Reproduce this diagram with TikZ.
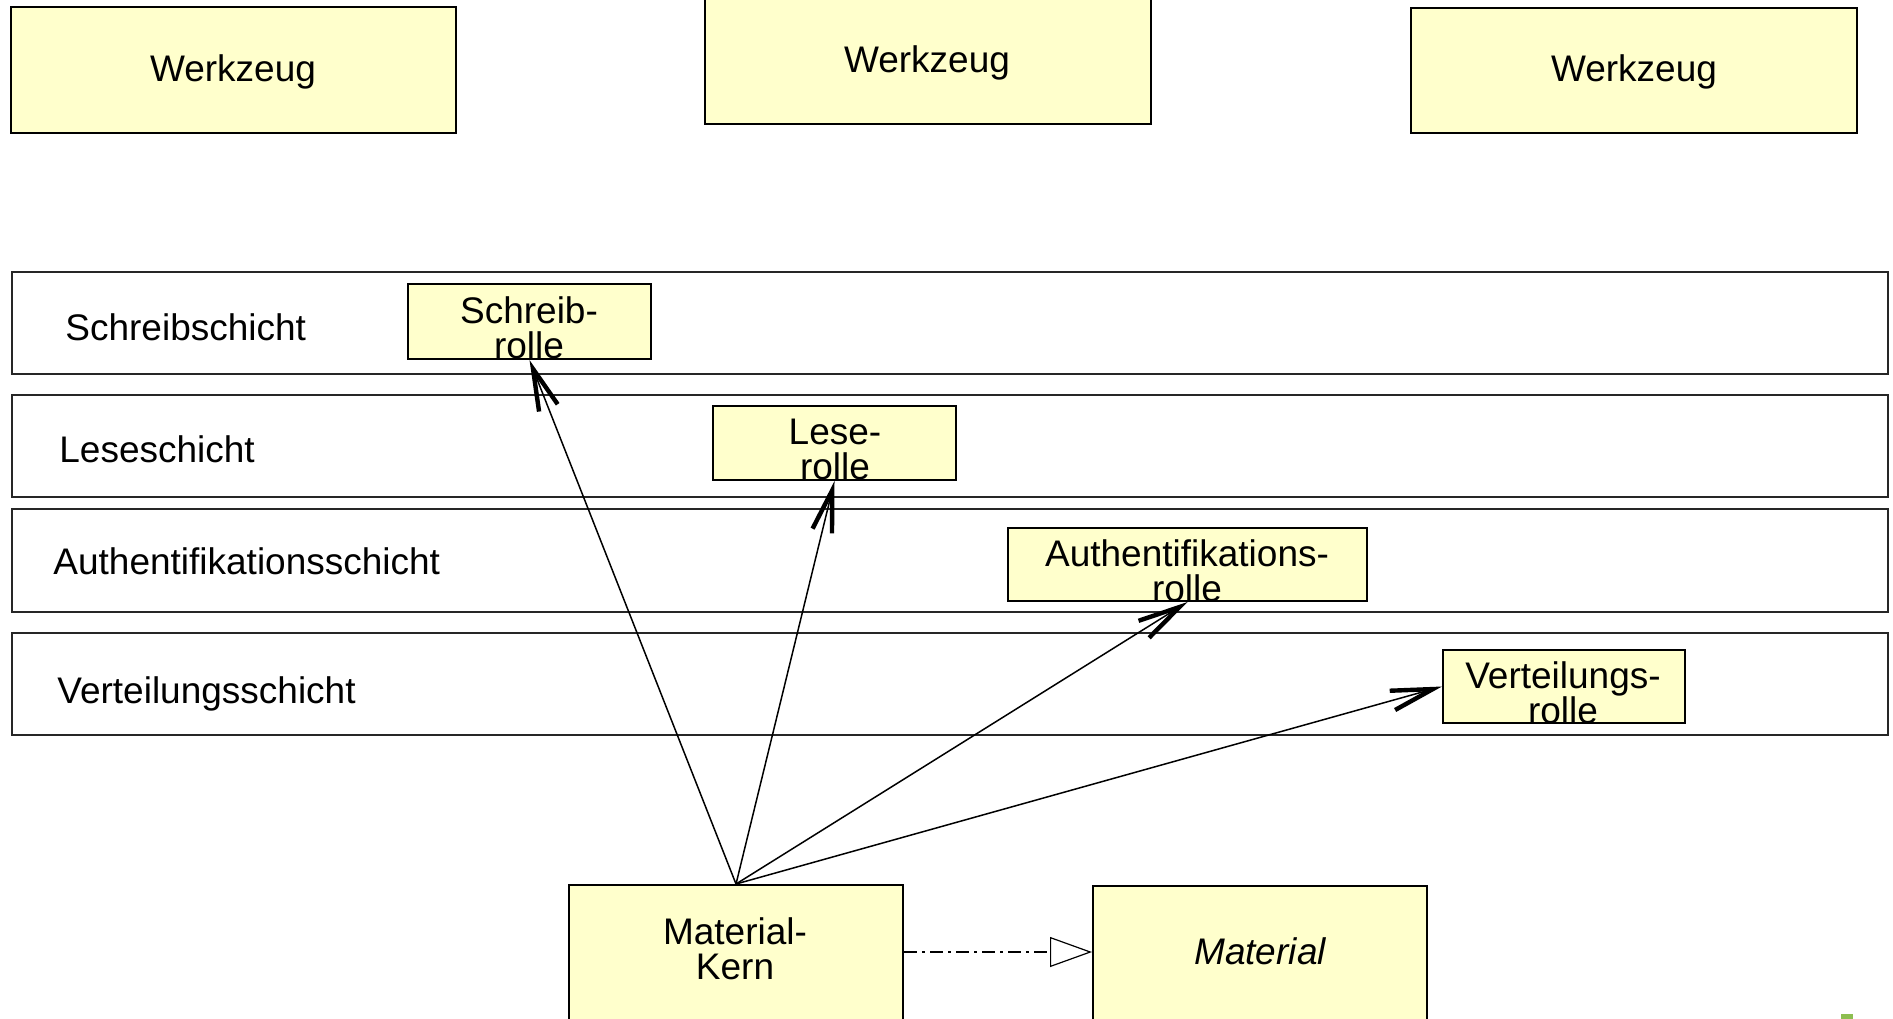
\documentclass[tikz,border=0pt]{standalone}
\usepackage{fontspec}
\setmainfont{Liberation Sans}
\usetikzlibrary{arrows.meta,fit}
\definecolor{boxfill}{RGB}{255,255,204}
\definecolor{markgreen}{RGB}{141,190,80}
\begin{document}
\begin{tikzpicture}[x=0.5pt,y=-0.5pt,
  every node/.style={font=\fontsize{18.5}{17.5}\selectfont},
  box/.style={draw=black,line width=1pt,fill=boxfill,inner sep=0pt},
  layer/.style={draw=black!85,line width=1pt,inner sep=0pt},
  txt/.style={align=center,inner sep=0pt},
  ltxt/.style={anchor=west,inner sep=0pt},
  uses/.style={line width=0.75pt,-{Straight Barb[length=21pt,width=10pt,line width=2.2pt]}},
  realizes/.style={line width=0.75pt,dash pattern=on 6.5pt off 2.5pt on 1.5pt off 2.5pt,
    -{Triangle[open,length=21pt,width=15pt,line width=0.6pt,fill=white]}}]
\useasboundingbox (0,0) rectangle (1893,1018);

% tools at the top
\node[box,fit={(11,7) (456,133)}] (w1) {};
\node[box,fit={(705,-6) (1151,124)}] (w2) {};
\node[box,fit={(1411,8) (1857,133)}] (w3) {};
\node[txt] (w1t) at (233,72) {Werkzeug};
\node[txt] (w2t) at (927,63) {Werkzeug};
\node[txt] (w3t) at (1634,72) {Werkzeug};

% layers
\node[layer,fit={(12,272) (1888,374)}] (l1) {};
\node[layer,fit={(12,395) (1888,497)}] (l2) {};
\node[layer,fit={(12,509) (1888,612)}] (l3) {};
\node[layer,fit={(12,633) (1888,735)}] (l4) {};
\node[ltxt] (l1t) at (65,327) {Schreibschicht};
\node[ltxt] (l2t) at (59,449) {Leseschicht};
\node[ltxt] (l3t) at (53,561) {Authentifikationsschicht};
\node[ltxt] (l4t) at (57,694) {Verteilungsschicht};

% roles
\node[box,fit={(408,284) (651,359)}] (schreib) {};
\node[box,fit={(713,406) (956,480)}] (lese) {};
\node[box,fit={(1008,528) (1367,601)}] (auth) {};
\node[box,fit={(1443,650) (1685,723)}] (vert) {};
\node[txt] (schreibt) at (529,328) {Schreib-\\rolle};
\node[txt] (leset) at (835,449) {Lese-\\rolle};
\node[txt] (autht) at (1187,571) {Authentifikations-\\rolle};
\node[txt] (vertt) at (1563,693) {Verteilungs-\\rolle};

% material
\node[box,fit={(569,885) (903,1030)}] (kern) {};
\node[box,fit={(1093,886) (1427,1030)}] (mat) {};
\node[txt] (kernt) at (735,949) {Material-\\Kern};
\node[txt,font=\fontsize{18.5}{17.5}\selectfont\itshape] (matt) at (1260,951) {Material};

% connectors
\draw[uses] (kern.north) -- (schreib.south);
\draw[uses] (kern.north) -- (lese.south);
\draw[uses] (kern.north) -- (auth.south);
\draw[uses] (kern.north) -- (vert.west);
\draw[realizes] ([yshift=2.75pt]kern.east) -- ([yshift=3pt]mat.west);

% corner mark
\fill[markgreen] (1841,1014) rectangle (1853,1019);
\end{tikzpicture}
\end{document}
